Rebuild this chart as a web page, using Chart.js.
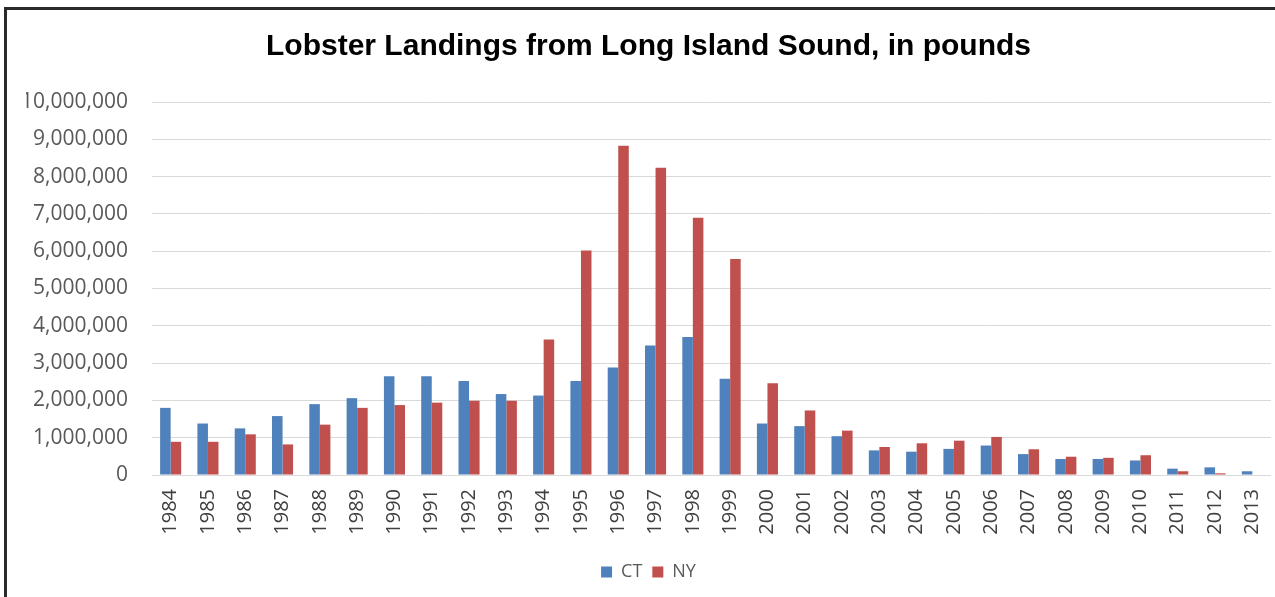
<!DOCTYPE html>
<html>
<head>
<meta charset="utf-8">
<title>Lobster Landings from Long Island Sound</title>
<script src="https://cdn.jsdelivr.net/npm/chart.js@4.4.1/dist/chart.umd.min.js"></script>
<style>
  html, body { margin: 0; padding: 0; background: #ffffff; }
  #wrap { position: relative; width: 1275px; height: 597px; overflow: hidden; }
  #chart { position: absolute; left: 0; top: 0; }
  #frame {
    position: absolute; left: 4px; top: 7px; width: 1290px; height: 620px;
    border-left: 3px solid #2a2a2a; border-top: 3px solid #2a2a2a;
    pointer-events: none;
  }
</style>
</head>
<body>
<div id="wrap">
  <canvas id="chart" width="1275" height="597"></canvas>
  <div id="frame"></div>
</div>
<script>
// Years shown along the horizontal axis
const years = ['1984','1985','1986','1987','1988','1989','1990','1991','1992','1993',
               '1994','1995','1996','1997','1998','1999','2000','2001','2002','2003',
               '2004','2005','2006','2007','2008','2009','2010','2011','2012','2013'];

// Connecticut landings, pounds
const ctLandings = [1800000, 1380000, 1250000, 1580000, 1900000, 2060000, 2650000, 2650000, 2520000, 2170000,
                    2130000, 2520000, 2880000, 3470000, 3700000, 2580000, 1380000, 1310000, 1040000, 660000,
                    625000, 700000, 790000, 560000, 430000, 430000, 390000, 170000, 205000, 100000];

// New York landings, pounds
const nyLandings = [890000, 890000, 1090000, 820000, 1350000, 1800000, 1875000, 1940000, 1990000, 1990000,
                    3630000, 6020000, 8830000, 8240000, 6900000, 5790000, 2460000, 1730000, 1190000, 750000,
                    850000, 920000, 1020000, 690000, 490000, 460000, 530000, 100000, 45000, 0];

// Value axis range and tick spacing
const yMin = 0;
const yMax = 10000000;
const yStep = 1000000;

const seriesNames = ['CT', 'NY'];
const seriesColors = ['#4f81bd', '#c0504d'];

new Chart(document.getElementById('chart'), {
  type: 'bar',
  data: {
    labels: years,
    datasets: [
      { label: seriesNames[0], data: ctLandings, backgroundColor: seriesColors[0],
        categoryPercentage: 0.565, barPercentage: 1.0 },
      { label: seriesNames[1], data: nyLandings, backgroundColor: seriesColors[1],
        categoryPercentage: 0.565, barPercentage: 1.0 }
    ]
  },
  options: {
    responsive: false,
    animation: false,
    layout: { padding: { left: 26, right: 4, top: 0, bottom: 6 } },
    plugins: {
      title: {
        display: true,
        text: 'Lobster Landings from Long Island Sound, in pounds',
        color: '#000000',
        font: { family: 'Liberation Sans, Arial, sans-serif', size: 30, weight: 'bold' },
        padding: { top: 29, bottom: 37 }
      },
      legend: {
        position: 'bottom',
        labels: {
          boxWidth: 11, boxHeight: 11,
          color: '#595959',
          font: { family: 'Open Sans', size: 18 }
        }
      },
      tooltip: { enabled: false }
    },
    scales: {
      x: {
        grid: { display: false, drawTicks: false },
        border: { display: false },
        ticks: {
          autoSkip: false, minRotation: 90, maxRotation: 90,
          padding: 14, color: '#404040',
          font: { family: 'Open Sans', size: 20 }
        },
        afterFit: (scale) => {
          // fixed band height; no side overflow so the plot reaches the right edge
          scale.height = 78;
          scale.paddingLeft = 0;
          scale.paddingRight = 0;
        }
      },
      y: {
        min: yMin, max: yMax,
        grid: { color: '#d9d9d9', lineWidth: 1, drawTicks: false },
        border: { display: false },
        ticks: {
          stepSize: yStep, padding: 24, color: '#595959',
          font: { family: 'Open Sans', size: 21 },
          callback: (v) => Number(v).toLocaleString('en-US')
        },
        afterFit: (scale) => { scale.width = 126; }
      }
    }
  }
});
</script>
</body>
</html>
